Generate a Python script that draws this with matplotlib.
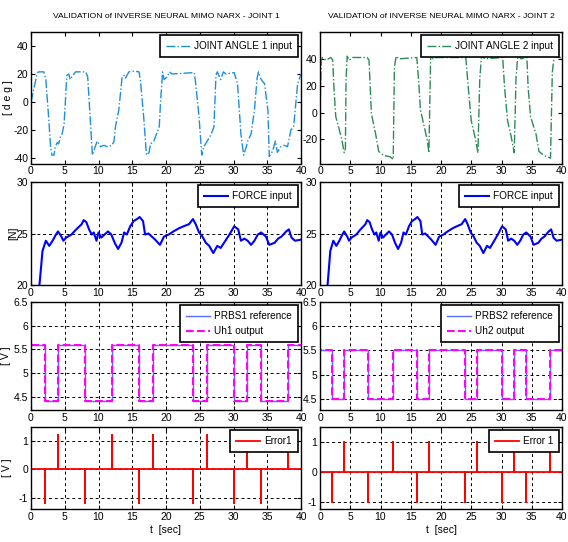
import numpy as np
import matplotlib
matplotlib.use("Agg")
import matplotlib.pyplot as plt
from matplotlib.ticker import FormatStrFormatter

plt.rcParams['font.family'] = ['Liberation Sans Narrow', 'Liberation Sans', 'DejaVu Sans']

# ---- data ----
# joint angle 1 [deg]
ja1_t = [0, 0.9, 1.1, 1.9, 2.2, 2.6, 2.9, 3.1, 3.4, 3.6, 3.9, 4.1, 4.4, 4.6, 4.9, 5.1, 5.3, 5.6, 5.8, 6.2, 6.6,
         8.1, 8.4, 8.7, 9.1, 9.3, 9.8, 10.3, 10.8, 11.3, 12.0, 12.3, 12.5, 13.0, 13.5, 13.8, 14.0, 14.5, 15.3,
         16.0, 16.2, 16.7, 17.1, 17.5, 17.7, 18.2, 18.5, 19.0, 19.2, 19.5, 19.7, 20.2, 20.5, 20.9, 24.2, 24.4,
         24.9, 25.3, 25.6, 26.1, 26.6, 27.1, 27.4, 27.6, 28.1, 28.5, 28.9, 30.1, 30.6, 31.1, 31.5, 31.9, 32.1,
         32.6, 33.1, 33.5, 33.7, 34.1, 34.6, 35.1, 35.3, 35.8, 36.2, 36.5, 37.0, 37.5, 38.0, 38.5, 38.9, 39.5, 40]
ja1_v = [0, 20, 21.5, 21.5, 16, -10, -32, -38, -38, -32, -29, -30, -24, -23, -16, 1, 19, 20, 16, 19, 21.5,
         21.5, 18, -6, -38, -35, -28, -32, -31, -32, -31, -28, -18, -6, 18, 19, 17, 21.5, 22,
         21.5, 16, -11, -38, -36, -30, -28, -24, -18, 1, 21.5, 16, 18, 21.5, 20, 21, 13,
         -11, -38, -32, -28, -24, -18, 19, 21.5, 16, 21.5, 20, 21, 13, -23, -38, -32, -28,
         -23, -6, 17, 21.5, 16, 13, -6, -39, -35, -28, -36, -32, -31, -32, -20, -18, 13, 20]

# joint angle 2 [deg]
ja2_t = [0, 0.2, 0.4, 1.0, 1.8, 2.1, 2.3, 2.6, 3.2, 3.6, 4.0, 4.2, 4.3, 4.5, 4.8, 5.4, 7.8, 8.1, 8.5, 9.2,
         9.7, 10.5, 11.6, 12.1, 12.3, 12.6, 13.0, 16.0, 16.3, 16.6, 17.1, 17.7, 18.0, 18.3, 18.7, 19.3, 24.1,
         24.5, 25.0, 25.7, 26.1, 26.4, 26.7, 27.2, 30.2, 30.5, 31.0, 31.6, 32.1, 32.4, 32.7, 33.2, 34.2, 34.4,
         34.8, 35.7, 36.2, 37.0, 38.1, 38.4, 38.7, 39.5, 40]
ja2_v = [2, 39, 41, 39, 41, 39, 19, -3, -13, -20, -30, -27, 24, 42, 39, 41, 41, 39, -1, -16,
         -29, -32, -33, -35, 34, 42, 40, 41, 24, 2, -8, -20, -30, 44, 40, 41, 41,
         19, -6, -20, -30, 24, 43, 40, 41, 19, -6, -18, -30, 26, 43, 40, 41, 19,
         -3, -16, -29, -32, -34, 30, 42, 41, 41]

# force [N]
f_t = [1.25, 1.5, 1.7, 2.2, 2.5, 2.7, 3.2, 3.7, 4.0, 4.5, 4.8, 5.2, 6.0, 6.7, 7.5, 7.8, 8.2, 8.6, 9.0, 9.3,
       9.7, 10.0, 10.4, 10.9, 11.4, 11.9, 12.4, 12.9, 13.4, 13.8, 14.2, 14.7, 15.2, 15.7, 16.1, 16.6, 16.9,
       17.4, 17.9, 18.4, 19.1, 19.7, 20.4, 21.1, 21.9, 22.6, 23.4, 24.0, 24.4, 24.9, 25.4, 25.9, 26.4, 27.0,
       27.6, 28.1, 28.6, 29.4, 30.1, 30.7, 31.1, 31.6, 32.1, 32.6, 33.1, 33.6, 34.1, 34.8, 35.3, 36.1, 36.6,
       37.1, 37.8, 38.2, 38.6, 39.1, 40]
f_v = [20, 21.8, 23.3, 24.3, 24.0, 23.8, 24.3, 24.9, 25.2, 24.7, 24.3, 24.6, 24.9, 25.4, 25.9, 26.3, 26.1,
       25.4, 24.9, 25.1, 24.3, 25.1, 24.6, 24.9, 25.2, 24.9, 24.1, 23.5, 24.1, 25.1, 24.9, 25.7, 26.2, 26.4,
       26.6, 26.2, 24.9, 25.0, 24.7, 24.4, 23.9, 24.7, 24.9, 25.2, 25.5, 25.7, 25.9, 26.4, 25.9, 25.1, 24.7,
       24.1, 23.8, 23.1, 23.8, 23.6, 24.1, 24.9, 25.7, 25.4, 24.3, 24.5, 24.3, 23.9, 24.3, 24.9, 25.1, 24.7,
       23.9, 24.1, 24.5, 24.7, 25.2, 25.4, 24.6, 24.3, 24.4]

# PRBS switching times and levels [V]
prbs_t = [0, 2, 4, 8, 12, 16, 18, 24, 26, 30, 32, 34, 38, 40]
prbs1_lvl = [5.6, 4.4, 5.6, 4.4, 5.6, 4.4, 5.6, 4.4, 5.6, 4.4, 5.6, 4.4, 5.6]
prbs2_lvl = [5.5, 4.5, 5.5, 4.5, 5.5, 4.5, 5.5, 4.5, 5.5, 4.5, 5.5, 4.5, 5.5]
uh1_start = 4.2
uh2_start = 4.25

# error spikes [V]
err_t = [0, 2, 4, 8, 12, 16, 18, 24, 26, 30, 32, 34, 38]
err1_v = [1.5, -1.2, 1.2, -1.2, 1.2, -1.2, 1.2, -1.2, 1.2, -1.2, 1.2, -1.2, 1.2]
err2_v = [1.5, -1.0, 1.0, -1.0, 1.0, -1.0, 1.0, -1.0, 1.0, -1.0, 1.0, -1.0, 1.0]


def step_xy(times, levels, start=None):
    x, y = [], []
    if start is not None:
        x.append(times[0])
        y.append(start)
    x.append(times[0])
    y.append(levels[0])
    for i in range(1, len(levels)):
        x += [times[i], times[i]]
        y += [levels[i - 1], levels[i]]
    x.append(times[-1])
    y.append(levels[-1])
    return np.array(x), np.array(y)


def spike_xy(times, vals):
    x, y = [], []
    for t, v in zip(times, vals):
        x += [t, t, t]
        y += [0, v, 0]
    x.append(40)
    y.append(0)
    return np.array(x), np.array(y)


fig = plt.figure(figsize=(5.68, 5.42), dpi=100)

colx = [(31 / 568, 270 / 568), (320 / 568, 242 / 568)]
rows = [(1 - 163.5 / 542, 131.5 / 542), (1 - 285 / 542, 103 / 542),
        (1 - 410 / 542, 108 / 542), (1 - 509 / 542, 82 / 542)]

fs = 7.5


def style(ax, grid=True):
    ax.set_xlim(0, 40)
    ax.set_xticks(range(0, 41, 5))
    ax.tick_params(direction='in', top=True, right=True, labelsize=fs, length=3, pad=2)
    ax.yaxis.set_major_formatter(FormatStrFormatter('%g'))
    for s in ax.spines.values():
        s.set_linewidth(1.0)
    if grid:
        ax.grid(True, color='black', linestyle=(0, (3, 3)), linewidth=0.7)


def leg(ax):
    lg = ax.legend(loc='upper right', fontsize=7.2, fancybox=False, framealpha=1,
                   edgecolor='black', borderpad=0.6, handlelength=2.4, handletextpad=0.4,
                   borderaxespad=0.3)
    lg.get_frame().set_linewidth(1.2)


for c in range(2):
    x0, w = colx[c]
    # joint angle
    ax = fig.add_axes([x0, rows[0][0], w, rows[0][1]])
    if c == 0:
        ax.plot(ja1_t, ja1_v, '-.', color='#1f8fd6', lw=1, label='JOINT ANGLE 1 input')
        ax.set_ylim(-44, 50)
        ax.set_yticks([-40, -20, 0, 20, 40])
        ax.set_ylabel('[ d e g ]', fontsize=fs, labelpad=0)
    else:
        ax.plot(ja2_t, ja2_v, '-.', color='#2e8b57', lw=1, label='JOINT ANGLE 2 input')
        ax.set_ylim(-38, 60)
        ax.set_yticks([-20, 0, 20, 40])
    style(ax, grid=False)
    leg(ax)
    ax.set_title('VALIDATION of INVERSE NEURAL MIMO NARX - JOINT %d' % (c + 1), fontsize=6.1, pad=10)

    # force
    ax = fig.add_axes([x0, rows[1][0], w, rows[1][1]])
    ax.plot(f_t, f_v, color='#0000ff', lw=1.5, label='FORCE input')
    ax.set_ylim(20, 30)
    ax.set_yticks([20, 25, 30])
    style(ax)
    leg(ax)
    if c == 0:
        ax.set_ylabel('[N]', fontsize=fs, labelpad=-1)

    # PRBS
    ax = fig.add_axes([x0, rows[2][0], w, rows[2][1]])
    lvl = prbs1_lvl if c == 0 else prbs2_lvl
    xs, ys = step_xy(prbs_t, lvl)
    ax.plot(xs, ys, color='#5a6cff', lw=1, label='PRBS%d reference' % (c + 1))
    xo, yo = step_xy(prbs_t, lvl, start=uh1_start if c == 0 else uh2_start)
    ax.plot(xo, yo, '--', color='#ff00ff', lw=1.5, label='Uh%d output' % (c + 1))
    ax.set_ylim(4.22 if c == 0 else 4.27, 6.5)
    ax.set_yticks([4.5, 5, 5.5, 6, 6.5])
    style(ax)
    leg(ax)
    if c == 0:
        ax.set_ylabel('[ V ]', fontsize=fs, labelpad=2)

    # error
    ax = fig.add_axes([x0, rows[3][0], w, rows[3][1]])
    xe, ye = spike_xy(err_t, err1_v if c == 0 else err2_v)
    ax.plot(xe, ye, color='#ff0000', lw=1.3, label='Error1' if c == 0 else 'Error 1')
    ax.set_ylim(-1.4 if c == 0 else -1.25, 1.5)
    ax.set_yticks([-1, 0, 1])
    style(ax)
    leg(ax)
    ax.set_xlabel('t  [sec]', fontsize=fs, labelpad=2)
    if c == 0:
        ax.set_ylabel('[ V ]', fontsize=fs, labelpad=5)

fig.savefig('out.png', dpi=100)
